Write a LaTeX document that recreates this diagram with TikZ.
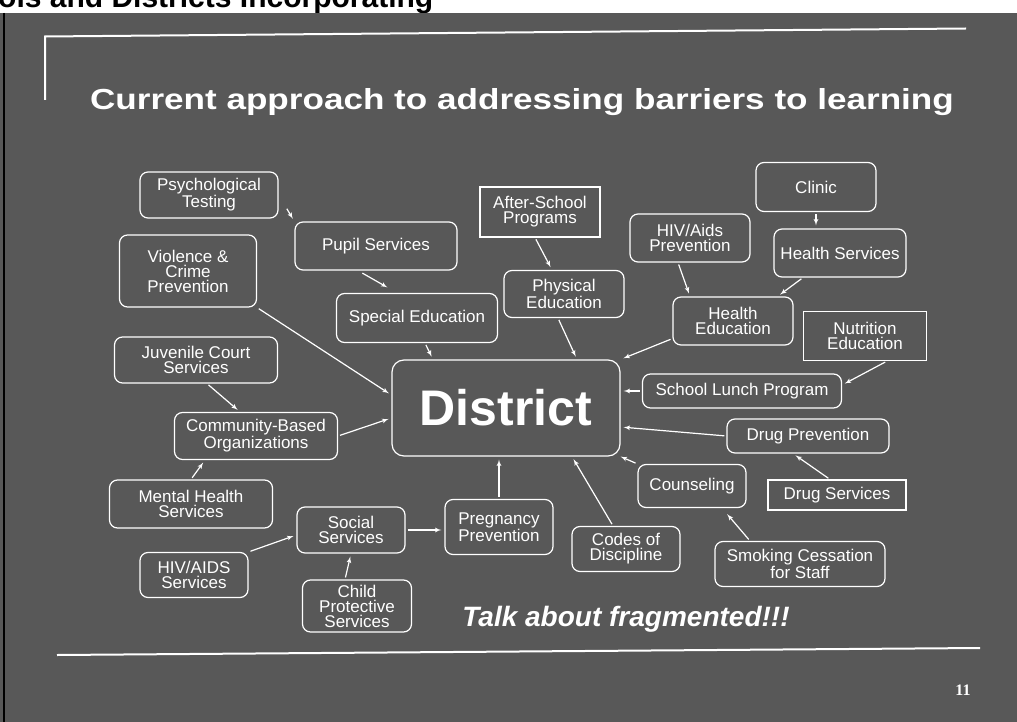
\documentclass[tikz,border=0pt]{standalone}
\usepackage{fontspec}
\setmainfont{Liberation Sans}
\newfontfamily\numfont{Liberation Serif}
\usepackage{graphicx}
\usepackage{tikz}
\usetikzlibrary{shapes,arrows,calc}
\definecolor{slide}{RGB}{88,88,88}
\tikzstyle{line} = [draw=white, line width=1.2pt, -latex', shorten >=3pt, shorten <=2pt]
\tikzstyle{block} = [draw=white, line width=1.2pt, rectangle, rounded corners=8pt, text=white, align=center, inner sep=1pt, font=\fontsize{17}{15}\selectfont]
\tikzstyle{sqblock} = [block, sharp corners]
\tikzstyle{hub} = [block, rounded corners=12pt, font=\fontsize{50}{50}\selectfont\bfseries]
\tikzstyle{caption} = [text=white, anchor=base, inner sep=0pt]

\begin{document}
\begin{tikzpicture}[x=1pt, y=-1pt]
        \useasboundingbox (0,0) rectangle (1017,722);
        \fill[white] (0,0) rectangle (1017,13);
        \fill[slide] (0,13) rectangle (1017,722);
        \draw[black, line width=2.5pt] (4,13) -- (4,722);
        \begin{scope}
            \clip (0,0) rectangle (1017,13);
            \node[anchor=base west, inner sep=0pt, font=\fontsize{30}{30}\selectfont\bfseries] (runhead) at (-2,8) {ols and Districts Incorporating};
        \end{scope}
        \draw[white, line width=2pt] (45,100) -- (45,36.5) -- (966,28.5);
        \draw[white, line width=2pt] (57,655) -- (980,648);
        \node[caption, font=\fontsize{29}{29}\selectfont\bfseries] (heading) at (522,110) {\scalebox{1.21}[1]{Current approach to addressing barriers to learning}};
        \node[hub, minimum width=228pt, minimum height=96pt] (district) at (506,408) {District};
        \node[block, minimum width=138pt, minimum height=46pt] (psych) at (209,195) {Psychological\\Testing};
        \node[block, minimum width=162pt, minimum height=48pt] (pupil) at (376,246) {Pupil Services};
        \node[block, minimum width=137pt, minimum height=72pt] (violence) at (188,271) {Violence \&\\Crime\\Prevention};
        \node[block, minimum width=161pt, minimum height=49pt] (special) at (417,318) {Special Education};
        \node[block, minimum width=163pt, minimum height=46pt] (juvenile) at (196,360) {Juvenile Court\\Services};
        \node[sqblock, minimum width=120pt, minimum height=50pt] (afterschool) at (540,212) {After-School\\Programs};
        \node[block, minimum width=120pt, minimum height=49pt] (clinic) at (816,187) {Clinic};
        \node[block, minimum width=120pt, minimum height=48pt] (hivaids) at (690,238) {HIV/Aids\\Prevention};
        \node[block, minimum width=132pt, minimum height=48pt] (healthsvc) at (840,253) {Health Services};
        \node[block, minimum width=120pt, minimum height=47pt] (physical) at (564,294) {Physical\\Education};
        \node[block, minimum width=120pt, minimum height=48pt] (healthed) at (733,321) {Health\\Education};
        \node[sqblock, minimum width=123pt, minimum height=49pt] (nutrition) at (865,336) {Nutrition\\Education};
        \node[block, minimum width=199pt, minimum height=34pt] (lunch) at (742,391) {School Lunch Program};
        \node[block, minimum width=162pt, minimum height=34pt] (drugprev) at (808,436) {Drug Prevention};
        \node[block, minimum width=108pt, minimum height=43pt] (counseling) at (692,486) {Counseling};
        \node[sqblock, minimum width=138pt, minimum height=30pt] (drugsvc) at (837,495) {Drug Services};
        \node[block, minimum width=108pt, minimum height=45pt] (codes) at (626,549) {Codes of\\Discipline};
        \node[block, minimum width=170pt, minimum height=45pt] (smoking) at (800,564) {Smoking Cessation\\for Staff};
        \node[block, minimum width=108pt, minimum height=55pt] (pregnancy) at (499,527) {Pregnancy\\Prevention};
        \node[block, minimum width=163pt, minimum height=47pt] (community) at (256,436) {Community-Based\\Organizations};
        \node[block, minimum width=163pt, minimum height=48pt] (mental) at (191,504) {Mental Health\\Services};
        \node[block, minimum width=108pt, minimum height=46pt] (social) at (351,530) {Social\\Services};
        \node[block, minimum width=108pt, minimum height=45pt] (hivsvc) at (194,575) {HIV/AIDS\\Services};
        \node[block, minimum width=109pt, minimum height=52pt] (child) at (357,606) {Child\\Protective\\Services};
        \node[caption, font=\fontsize{28}{28}\selectfont\bfseries\itshape] (remark) at (626,626) {Talk about fragmented!!!};
        \node[text=white, font=\numfont\bfseries\fontsize{16}{16}\selectfont] (pageno) at (963,690) {11};
        \path[line, shorten <=16pt] (psych.east) -- (pupil.north west);
        \path[line, shorten <=5pt, shorten >=11pt] ([xshift=-18pt]pupil.south) -- ([xshift=-20pt]special.north);
        \path[line] (violence.south east) -- ([yshift=13pt]district.west);
        \path[line] ([xshift=8pt]special.south) -- ([xshift=-73pt]district.north);
        \path[line] ([xshift=11pt]juvenile.south) -- ([xshift=-16pt]community.north);
        \path[line] (community.east) -- ([yshift=-10pt]district.west);
        \path[line] (mental.north) -- ([xshift=-51pt]community.south);
        \path[line] (hivsvc.north east) -- ([yshift=-5pt]social.west);
        \path[line] ([xshift=-12pt]child.north) -- (social.south);
        \path[line] (social.east) -- (social.east -| pregnancy.west);
        \path[line] (pregnancy) -- (pregnancy |- district.south);
        \path[line] ([xshift=-13pt]codes.north) -- ([xshift=66pt]district.south);
        \path[line, shorten >=0pt] (counseling.north west) -- (district.south east);
        \path[line] (drugprev.west) -- ([yshift=-19pt]district.east);
        \path[line] (lunch.west) -- (lunch.west -| district.east);
        \path[line] ([xshift=-7pt]drugsvc.north) -- ([xshift=-15pt]drugprev.south);
        \path[line, shorten >=8pt] ([xshift=-50pt]smoking.north) -- ([xshift=30pt]counseling.south);
        \path[line] ([xshift=22pt]nutrition.south) -- ([yshift=6pt]lunch.east);
        \path[line] ([yshift=7pt]healthed.south west) -- (district.north east);
        \path[line] ([xshift=-6pt]physical.south) -- ([xshift=71pt]district.north);
        \path[line] ([xshift=-5pt]afterschool.south) -- ([xshift=-12pt]physical.north);
        \path[line] ([xshift=-12pt]hivaids.south) -- ([xshift=-43pt]healthed.north);
        \path[line] ([xshift=-37pt]healthsvc.south) -- ([xshift=-16pt]healthed.north east);
        \path[line] (clinic) -- (clinic |- healthsvc.north);
    \end{tikzpicture}
\end{document}
